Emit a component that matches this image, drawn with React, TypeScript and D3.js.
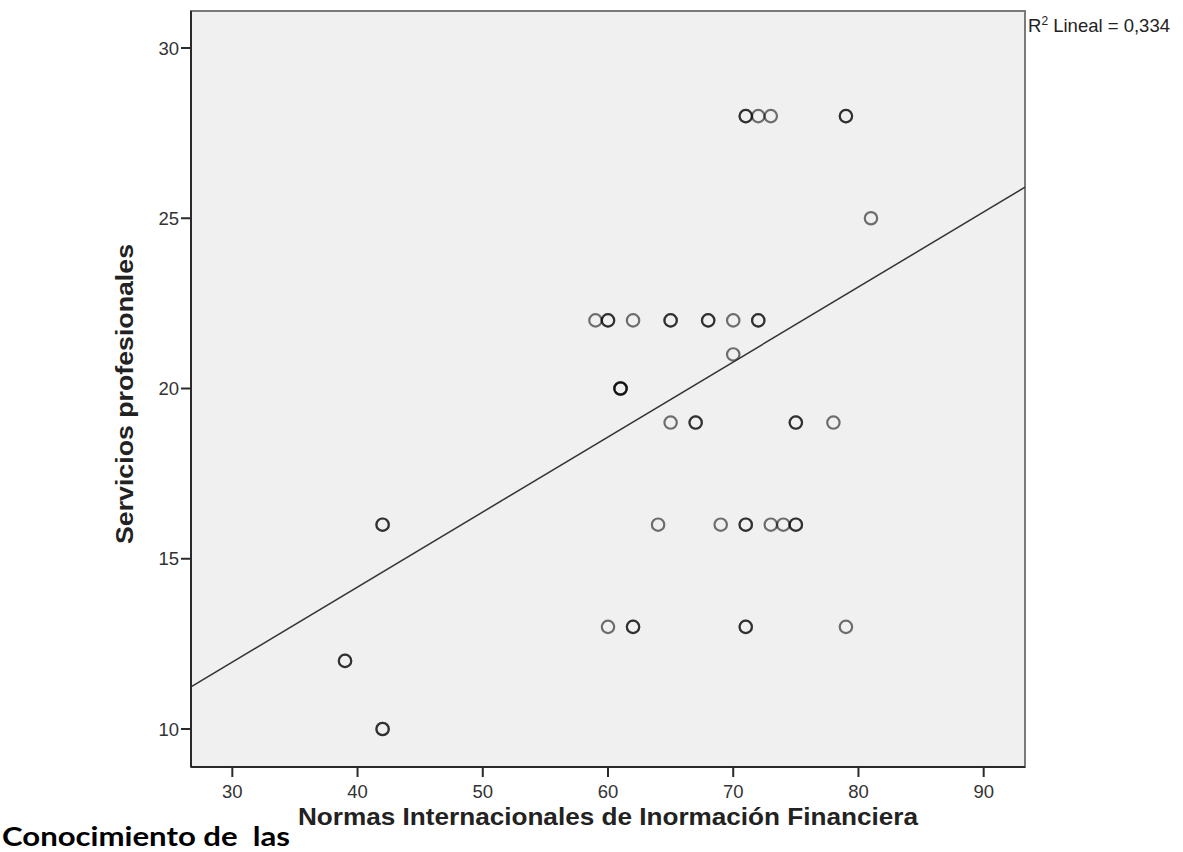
import React from "react";
import * as d3 from "d3";

// Scatter of "Normas Internacionales..." knowledge score vs. "Servicios profesionales" score.
// Each entry is one observation; repeated pairs are listed as many times as they occur.
const normasScores = [
  71, 71, 72, 73, 79, 79,
  81,
  59, 60, 60, 62, 65, 65, 68, 68, 70, 72, 72,
  70,
  61, 61, 61,
  65, 67, 67, 75, 75, 78,
  42, 42, 64, 69, 71, 71, 73, 74, 75, 75,
  60, 62, 62, 71, 71, 79,
  39, 39,
  42, 42,
];
const serviciosScores = [
  28, 28, 28, 28, 28, 28,
  25,
  22, 22, 22, 22, 22, 22, 22, 22, 22, 22, 22,
  21,
  20, 20, 20,
  19, 19, 19, 19, 19, 19,
  16, 16, 16, 16, 16, 16, 16, 16, 16, 16,
  13, 13, 13, 13, 13, 13,
  12, 12,
  10, 10,
];

const xTicks = [30, 40, 50, 60, 70, 80, 90];
const yTicks = [10, 15, 20, 25, 30];

// Linear fit line (intercept, slope) and its R²
const fitIntercept = 5.358;
const fitSlope = 0.2203;
const rSquaredLabel = "0,334";

const xTitle = "Normas Internacionales de Inormación Financiera";
const xTitlePrefix = "Conocimiento de  las";
const yTitle = "Servicios profesionales";

const W = 1183;
const H = 852;
const plot = { left: 191, right: 1025, top: 11, bottom: 767 };

export default function App() {
  const x = d3.scaleLinear().domain([26.7, 93.3]).range([plot.left, plot.right]);
  const y = d3.scaleLinear().domain([10, 30]).range([729, 48]);

  const [x0, x1] = x.domain();
  const fitLine = d3
    .line<number>()
    .x((d) => x(d))
    .y((d) => y(fitIntercept + fitSlope * d))([x0, x1]);

  const tickFont = "'Liberation Sans', Arial, sans-serif";

  return (
    <svg
      width={W}
      height={H}
      style={{ position: "absolute", left: 0, top: 0, background: "#fff" }}
    >
      <defs>
        <clipPath id="plotClip">
          <rect
            x={plot.left}
            y={plot.top}
            width={plot.right - plot.left}
            height={plot.bottom - plot.top}
          />
        </clipPath>
      </defs>

      {/* plot area */}
      <rect
        x={plot.left}
        y={plot.top}
        width={plot.right - plot.left}
        height={plot.bottom - plot.top}
        fill="#f0f0f0"
        stroke="#7a7a7a"
        strokeWidth={2}
      />

      {/* points */}
      <g clipPath="url(#plotClip)">
        {normasScores.map((v, i) => (
          <circle
            key={i}
            cx={x(v)}
            cy={y(serviciosScores[i])}
            r={6.2}
            fill="none"
            stroke="#000"
            strokeOpacity={0.55}
            strokeWidth={2.2}
          />
        ))}
        <path d={fitLine ?? ""} fill="none" stroke="#333" strokeWidth={1.5} />
      </g>

      {/* axes */}
      <line x1={plot.left} y1={plot.top} x2={plot.left} y2={plot.bottom} stroke="#2a2a2a" strokeWidth={2} />
      <line x1={plot.left} y1={plot.bottom} x2={plot.right} y2={plot.bottom} stroke="#2a2a2a" strokeWidth={2} />

      {yTicks.map((t) => (
        <g key={"y" + t}>
          <line x1={plot.left - 10} x2={plot.left} y1={y(t)} y2={y(t)} stroke="#2a2a2a" strokeWidth={2} />
          <text
            x={plot.left - 12}
            y={y(t)}
            dy="0.36em"
            textAnchor="end"
            fontFamily={tickFont}
            fontSize={18.5}
            fill="#333"
          >
            {t}
          </text>
        </g>
      ))}

      {xTicks.map((t) => (
        <g key={"x" + t}>
          <line x1={x(t)} x2={x(t)} y1={plot.bottom} y2={plot.bottom + 10} stroke="#2a2a2a" strokeWidth={2} />
          <text
            x={x(t)}
            y={798}
            textAnchor="middle"
            fontFamily={tickFont}
            fontSize={18.5}
            fill="#333"
          >
            {t}
          </text>
        </g>
      ))}

      {/* R² annotation */}
      <text x={1028} y={32} fontFamily={tickFont} fontSize={18.5} fill="#222">
        R<tspan dy={-7} fontSize={12}>2</tspan>
        <tspan dy={7}>{" Lineal = " + rSquaredLabel}</tspan>
      </text>

      {/* axis titles */}
      <text
        transform={`translate(133,394) rotate(-90)`}
        textAnchor="middle"
        fontFamily={tickFont}
        fontWeight="bold"
        fontSize={23}
        fill="#222"
        textLength={300}
        lengthAdjust="spacingAndGlyphs"
      >
        {yTitle}
      </text>

      <text
        x={608}
        y={825}
        textAnchor="middle"
        fontFamily={tickFont}
        fontWeight="bold"
        fontSize={24}
        fill="#222"
        textLength={620}
        lengthAdjust="spacingAndGlyphs"
      >
        {xTitle}
      </text>

      <text
        x={2}
        y={846}
        fontFamily="Lato, 'Open Sans', sans-serif"
        fontWeight="bold"
        fontSize={27}
        fill="#000"
        textLength={288}
        lengthAdjust="spacingAndGlyphs"
        style={{ whiteSpace: "pre" }}
      >
        {xTitlePrefix}
      </text>
    </svg>
  );
}
